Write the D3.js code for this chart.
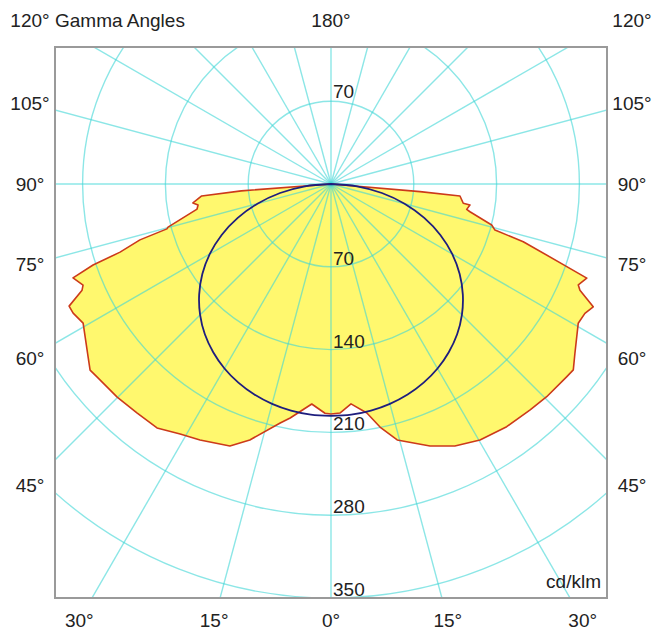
<!DOCTYPE html>
<html>
<head>
<meta charset="utf-8">
<script src="https://cdn.jsdelivr.net/npm/d3@7"></script>
<style>
  html, body { margin: 0; padding: 0; background: #fff; }
  svg text { font-family: "Liberation Sans", Arial, sans-serif; fill: #222; }
</style>
</head>
<body>
<svg id="chart" width="654" height="634"></svg>
<script>
// Luminous intensity distribution (cd/klm) against gamma angle (deg from nadir)

// C90 half-plane (drawn to the right)
const gammaRight = [0, 2.3, 5.2, 8.9, 11.4, 14.5, 20.7, 25.3, 30.2, 35.9, 41.4, 45.4, 50.7, 52.5, 55.2,
  60.6, 63.0, 64.9, 66.9, 67.8, 69.8, 70.7, 73.3, 74.3, 75.7, 78.7, 79.4, 81.4, 81.7, 84.7, 85.1, 90];
const cdRight = [194.4, 193.7, 186.7, 196.0, 209.6, 223.5, 236.8, 245.0, 250.4, 253.3, 254.6, 256.1, 257.4, 258.2, 251.1,
  239.9, 240.9, 244.8, 228.8, 225.8, 230.4, 211.2, 169.7, 144.0, 140.2, 119.8, 116.7, 118.8, 113.0, 109.5, 75.5, 0];

// C270 half-plane (drawn to the left)
const gammaLeft = [0, 1.5, 5.0, 9.9, 12.0, 17.6, 21.1, 27.1, 31.1, 35.5, 40.3, 45.1, 50.5, 52.3, 54.5,
  60.7, 63.4, 65.0, 66.9, 67.8, 70.0, 71.2, 72.1, 73.7, 74.7, 75.2, 79.4, 81.0, 82.2, 84.7, 85.6, 90];
const cdLeft = [194.4, 193.9, 186.7, 200.8, 206.6, 227.0, 237.4, 243.1, 246.9, 253.3, 253.7, 255.2, 256.4, 257.4, 252.2,
  240.3, 243.8, 244.3, 228.8, 226.4, 232.1, 212.5, 187.4, 168.3, 143.8, 142.5, 115.2, 113.8, 117.8, 109.8, 76.0, 0];

// C0-C180 plane (symmetric)
const gammaC0 = [0, 5, 10, 15, 20, 25, 30, 35, 40, 45, 50, 55, 60, 65, 70, 75, 80, 85, 90];
const cdC0 = [196.1, 195.7, 194.5, 192.4, 189.4, 185.3, 180.1, 173.6, 165.9, 156.5, 145.5, 132.8, 118.3, 102.0, 83.9, 64.4, 43.7, 22.1, 0];

// Grid and labels
const radialTicks = [70, 140, 210, 280, 350];
const spokeAngles = d3.range(0, 360, 15);
const sideLabels = [105, 90, 75, 60, 45];
const bottomLabels = [30, 15, 0, 15, 30];
const bottomSigns = [-1, -1, 0, 1, 1];

const svg = d3.select("#chart");
const W = 654, H = 634;
const frame = { x0: 55, x1: 607, y0: 47, y1: 598 };
const cx = 331, cy = 184;
const rad = Math.PI / 180;

const r = d3.scaleLinear().domain([0, 350]).range([0, 414]);

svg.append("rect").attr("width", W).attr("height", H).attr("fill", "#fff");

svg.append("defs").append("clipPath").attr("id", "plotClip")
  .append("rect")
  .attr("x", frame.x0).attr("y", frame.y0)
  .attr("width", frame.x1 - frame.x0).attr("height", frame.y1 - frame.y0);

const plot = svg.append("g").attr("clip-path", "url(#plotClip)");
const g = plot.append("g").attr("transform", `translate(${cx},${cy})`);

// right side: radial angle = 180 - gamma ; left side: 180 + gamma
const rightPts = gammaRight.map((gm, i) => [(180 - gm) * rad, r(cdRight[i])]);
const leftPts = gammaLeft.map((gm, i) => [(180 + gm) * rad, r(cdLeft[i])]);
const outline = rightPts.concat(leftPts.slice().reverse());

const radial = d3.lineRadial().angle(d => d[0]).radius(d => d[1]).curve(d3.curveLinear);

// yellow distribution area
g.append("path")
  .attr("d", radial(outline) + "Z")
  .attr("fill", "#fff86e")
  .attr("stroke", "none");

// grid on top of the fill
const grid = g.append("g").attr("fill", "none").attr("stroke", "#3fd6d6")
  .attr("stroke-opacity", 0.6).attr("stroke-width", 1.4);

grid.selectAll("circle").data(radialTicks).join("circle")
  .attr("r", d => r(d));

grid.selectAll("line").data(spokeAngles).join("line")
  .attr("x1", 0).attr("y1", 0)
  .attr("x2", d => 900 * Math.sin(d * rad))
  .attr("y2", d => 900 * Math.cos(d * rad));

// outline of the C90/C270 curve
g.append("path")
  .attr("d", radial(outline) + "Z")
  .attr("fill", "none")
  .attr("stroke", "#cc3a1a")
  .attr("stroke-width", 1.6)
  .attr("stroke-linejoin", "round");

// C0-C180 curve
const c0Pts = gammaC0.map((gm, i) => [(180 - gm) * rad, r(cdC0[i])])
  .concat(gammaC0.slice().reverse().map((gm, i, arr) => [(180 + gm) * rad, r(cdC0[cdC0.length - 1 - i])]));
g.append("path")
  .attr("d", d3.lineRadial().angle(d => d[0]).radius(d => d[1]).curve(d3.curveCatmullRomClosed)(c0Pts))
  .attr("fill", "none")
  .attr("stroke", "#1e1e7e")
  .attr("stroke-width", 1.8);

// radial value labels
const fs = 19;
radialTicks.forEach(v => {
  svg.append("text").attr("x", cx + 2).attr("y", cy + r(v) - 2)
    .attr("font-size", fs).text(v);
  if (cy - r(v) - 3 - 14 > frame.y0) {
    svg.append("text").attr("x", cx + 2).attr("y", cy - r(v) - 3)
      .attr("font-size", fs).text(v);
  }
});

// frame
svg.append("rect")
  .attr("x", frame.x0).attr("y", frame.y0)
  .attr("width", frame.x1 - frame.x0).attr("height", frame.y1 - frame.y0)
  .attr("fill", "none").attr("stroke", "#9a9a9a").attr("stroke-width", 2);

// angle labels around the frame
const labelLeftX = 30, labelRightX = 632, labelTopY = 20, labelBottomY = 620;
sideLabels.forEach(gm => {
  const y = cy + (cx - labelLeftX) * Math.cos(gm * rad) / Math.sin(gm * rad);
  [labelLeftX, labelRightX].forEach(x => {
    svg.append("text").attr("x", x).attr("y", y).attr("dy", "0.36em")
      .attr("text-anchor", "middle").attr("font-size", fs).text(gm + "°");
  });
});
bottomLabels.forEach((gm, i) => {
  const x = cx + bottomSigns[i] * (labelBottomY - cy) * Math.tan(gm * rad);
  svg.append("text").attr("x", x).attr("y", labelBottomY).attr("dy", "0.36em")
    .attr("text-anchor", "middle").attr("font-size", fs).text(gm + "°");
});
svg.append("text").attr("x", cx).attr("y", labelTopY).attr("dy", "0.36em")
  .attr("text-anchor", "middle").attr("font-size", fs).text("180°");
svg.append("text").attr("x", labelLeftX).attr("y", labelTopY).attr("dy", "0.36em")
  .attr("text-anchor", "middle").attr("font-size", fs).text("120°");
svg.append("text").attr("x", labelRightX).attr("y", labelTopY).attr("dy", "0.36em")
  .attr("text-anchor", "middle").attr("font-size", fs).text("120°");
svg.append("text").attr("x", 55).attr("y", labelTopY).attr("dy", "0.36em")
  .attr("font-size", fs).text("Gamma Angles");

svg.append("text").attr("x", 601).attr("y", 588)
  .attr("text-anchor", "end").attr("font-size", fs).text("cd/klm");
</script>
</body>
</html>
